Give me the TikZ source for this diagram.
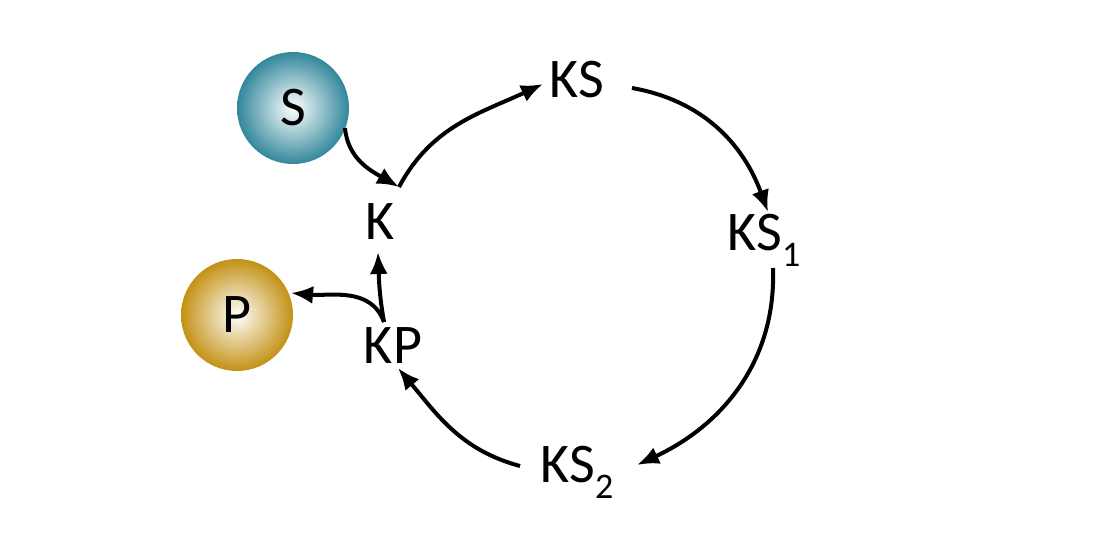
\documentclass[tikz,border=0pt]{standalone}
\usepackage{fontspec}
\setmainfont{Carlito}
\usetikzlibrary{arrows.meta}
\definecolor{teal1}{RGB}{50,135,155}
\definecolor{gold1}{RGB}{195,145,20}
\newcommand{\subx}[1]{\raisebox{-0.28em}{\fontsize{36}{40}\selectfont #1}}
\begin{document}
\begin{tikzpicture}[x=1pt,y=-1pt,
  lbl/.style={font=\fontsize{56}{60}\selectfont, inner sep=2pt},
  ball/.style={circle, minimum size=112pt, inner sep=0pt, font=\fontsize{56}{60}\selectfont},
  arr/.style={line width=4pt, -{Latex[length=22pt,width=18pt]}}]
\useasboundingbox (0,0) rectangle (1108,536);
\node[ball, inner color=white, outer color=teal1] (S) at (293,108) {S};
\node[ball, inner color=white, outer color=gold1] (P) at (237,315) {P};
\node[lbl] (K) at (380,222) {K};
\node[lbl] (KS) at (577,80) {KS};
\node[lbl] (KS1) at (764,240) {KS\subx{1}};
\node[lbl] (KS2) at (577,472) {KS\subx{2}};
\node[lbl] (KP) at (393,346) {KP};
\coordinate (Ka) at (399,187);
\coordinate (KPa) at (384,322);
\coordinate (Sa) at (345,128);
\coordinate (KSa) at (632,88);
\coordinate (KSb) at (543,84);
\coordinate (KS1a) at (773,268);
\coordinate (KS1b) at (768,212);
\coordinate (KS2a) at (520,466);
\coordinate (KS2b) at (637,465);
\coordinate (KPb) at (398,368);
\coordinate (Kb) at (378,252);
\coordinate (Pb) at (291,293);
\draw[arr] (Sa) to[out=-85,in=150] (Ka);
\draw[arr] (Ka) to[out=62,in=-155] (KSb);
\draw[arr] (KSa) to[out=-10,in=110] (KS1b);
\draw[arr] (KS1a) to[out=-88,in=25] (KS2b);
\draw[arr] (KS2a) to[out=165,in=-50] (KPb);
\draw[arr] (KPa) to[out=100,in=-88] (Kb);
\draw[arr] (KPa) to[out=110,in=-5] (Pb);
\end{tikzpicture}
\end{document}
